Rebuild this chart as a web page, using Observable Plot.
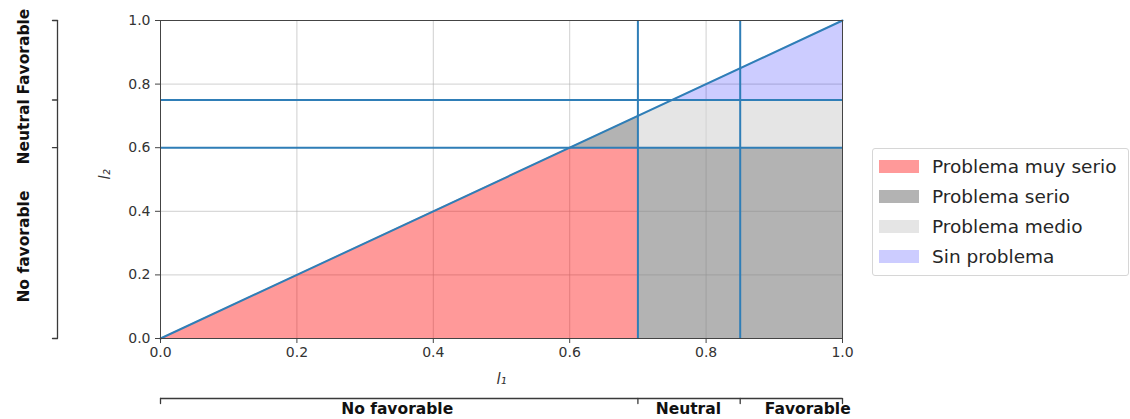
<!DOCTYPE html>
<html>
<head>
<meta charset="utf-8">
<script src="https://cdn.jsdelivr.net/npm/d3@7"></script>
<script src="https://cdn.jsdelivr.net/npm/@observablehq/plot@0.6"></script>
<style>
  html, body { margin: 0; padding: 0; background: #fff; overflow: hidden; }
  #wrap { position: relative; width: 1130px; height: 419px; font-family: "DejaVu Sans", sans-serif; }
  #legend { position: absolute; left: 872px; top: 148px; width: 257px; height: 128px; border: 1px solid #d6d6d6; border-radius: 3px; box-sizing: border-box; padding-top: 2px; background: #fff; }
  .item { display: flex; align-items: center; height: 30px; font-size: 18.5px; color: #262626; }
  .sw { width: 40px; height: 13px; margin-left: 6px; margin-right: 13px; }
</style>
</head>
<body>
<div id="wrap"></div>
<script>
// ---- data ----
const categories = ["Problema muy serio", "Problema serio", "Problema medio", "Sin problema"];
const colors = ["red", "gray", "lightgray", "blue"];
const alphas = [0.4, 0.6, 0.6, 0.2];
const thresholdsX = [0.7, 0.85];   // l1 boundaries
const thresholdsY = [0.6, 0.75];   // l2 boundaries
const tickValues = [0, 0.2, 0.4, 0.6, 0.8, 1.0];
const zoneLabels = ["No favorable", "Neutral", "Favorable"];
const zoneLabelPosX = [0.347, 0.774, 0.949];
const zoneLabelPosY = [0.289, 0.65, 0.902];
// region pieces: [x, y1, y2] vertices, drawn as areas
const regionPieces = [
  {cat: "Problema muy serio", id: "r1", pts: [[0, 0, 0], [0.6, 0, 0.6], [0.7, 0, 0.6]]},
  {cat: "Problema serio", id: "s1", pts: [[0.6, 0.6, 0.6], [0.7, 0.6, 0.7]]},
  {cat: "Problema serio", id: "s2", pts: [[0.7, 0, 0.6], [1.0, 0, 0.6]]},
  {cat: "Problema medio", id: "m1", pts: [[0.7, 0.6, 0.7], [0.75, 0.6, 0.75], [1.0, 0.6, 0.75]]},
  {cat: "Sin problema", id: "n1", pts: [[0.75, 0.75, 0.75], [1.0, 0.75, 1.0]]}
];
const diagonal = [[0, 0], [1, 1]];

// ---- derived tables ----
const catIndex = Object.fromEntries(categories.map((c, i) => [c, i]));
const areaRows = regionPieces.flatMap(p => p.pts.map(([x, y1, y2]) => ({x, y1, y2, cat: p.cat, id: p.id})));
const boundsX = [0, ...thresholdsX, 1];
const boundsY = [0, ...thresholdsY, 1];
const labelsX = zoneLabels.map((label, i) => ({v: zoneLabelPosX[i], label}));
const labelsY = zoneLabels.map((label, i) => ({v: zoneLabelPosY[i], label}));
const lineColor = "#2f7eb7";
const bracketColor = "#3a3a3a";
const tickShape = {draw(ctx, l) { ctx.moveTo(0, 0); ctx.lineTo(0, -l); }};

const chart = Plot.plot({
  width: 1130,
  height: 419,
  marginLeft: 160,
  marginRight: 288,
  marginTop: 20,
  marginBottom: 81,
  x: {domain: [0, 1]},
  y: {domain: [0, 1]},
  style: {fontFamily: "DejaVu Sans, sans-serif", fontSize: "14px", color: "#333", background: "#fff", overflow: "visible"},
  marks: [
    Plot.gridX(tickValues, {stroke: "#b0b0b0", strokeOpacity: 0.6}),
    Plot.gridY(tickValues, {stroke: "#b0b0b0", strokeOpacity: 0.6}),
    Plot.areaY(areaRows, {x: "x", y1: "y1", y2: "y2", z: "id",
      fill: d => colors[catIndex[d.cat]], fillOpacity: d => alphas[catIndex[d.cat]], curve: "linear"}),
    Plot.ruleY(thresholdsY, {x1: 0, x2: 1, stroke: lineColor, strokeWidth: 2}),
    Plot.ruleX(thresholdsX, {y1: 0, y2: 1, stroke: lineColor, strokeWidth: 2}),
    Plot.line(diagonal, {x: d => d[0], y: d => d[1], stroke: lineColor, strokeWidth: 2}),
    Plot.frame({stroke: "#444", strokeWidth: 1}),
    Plot.axisX(tickValues, {tickFormat: d3.format(".1f"), tickSize: 5, tickPadding: 4, label: null, fontSize: 14, fill: "#333", stroke: "#444"}),
    Plot.axisY(tickValues, {tickFormat: d3.format(".1f"), tickSize: 5, tickPadding: 5, label: null, fontSize: 14, fill: "#333", stroke: "#444"}),
    // axis titles
    Plot.text(["l₁"], {frameAnchor: "bottom", dy: 45, fontStyle: "italic", fontSize: 15, fill: "#333"}),
    Plot.text(["l₂"], {frameAnchor: "left", dx: -55, rotate: -90, fontStyle: "italic", fontSize: 15, fill: "#333"}),
    // bottom bracket
    Plot.ruleY([0], {x1: 0, x2: 1, dy: 60, stroke: bracketColor, strokeWidth: 1.3}),
    Plot.vector(boundsX, {x: d => d, y: 0, dy: 60, length: 5, rotate: 180, anchor: "start", shape: tickShape, stroke: bracketColor, strokeWidth: 1.3}),
    Plot.text(labelsX, {x: "v", y: 0, text: "label", dy: 71, fontWeight: "bold", fontSize: 15.5, fill: "#111"}),
    // left bracket
    Plot.ruleX([0], {y1: 0, y2: 1, dx: -103, stroke: bracketColor, strokeWidth: 1.3}),
    Plot.vector(boundsY, {x: 0, y: d => d, dx: -103, length: 5, rotate: -90, anchor: "start", shape: tickShape, stroke: bracketColor, strokeWidth: 1.3}),
    Plot.text(labelsY, {x: 0, y: "v", text: "label", dx: -136, rotate: -90, fontWeight: "bold", fontSize: 15.5, fill: "#111"})
  ]
});

const wrap = document.getElementById("wrap");
wrap.appendChild(chart);

const legend = document.createElement("div");
legend.id = "legend";
categories.forEach((c, i) => {
  const item = document.createElement("div");
  item.className = "item";
  const sw = document.createElement("span");
  sw.className = "sw";
  sw.style.background = colors[i];
  sw.style.opacity = alphas[i];
  const label = document.createElement("span");
  label.textContent = c;
  item.appendChild(sw);
  item.appendChild(label);
  legend.appendChild(item);
});
wrap.appendChild(legend);
</script>
</body>
</html>
